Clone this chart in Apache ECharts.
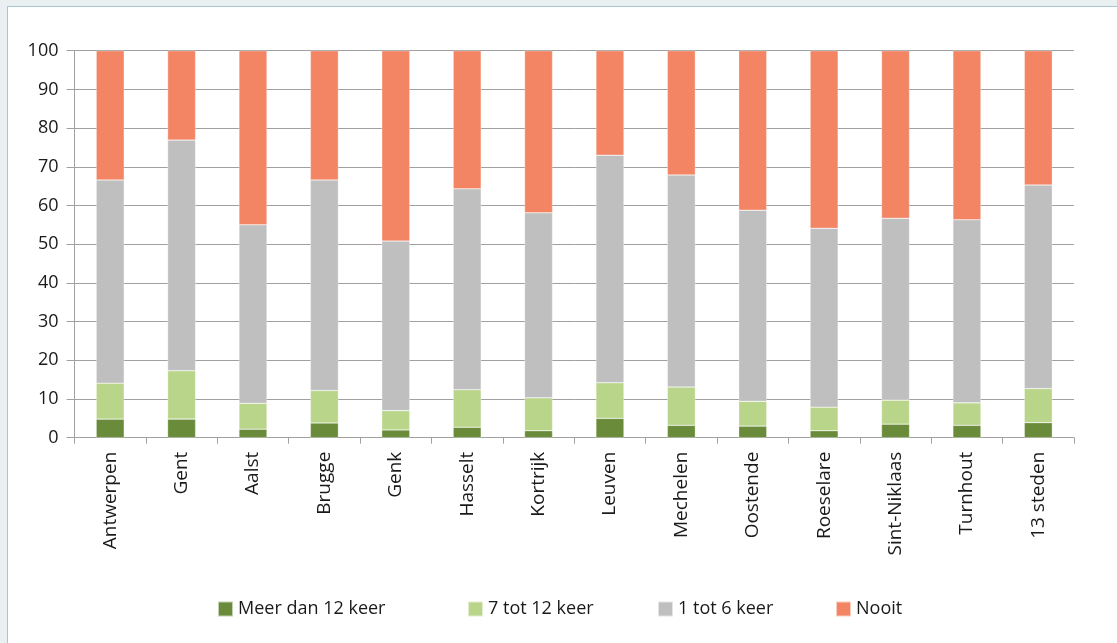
<!DOCTYPE html>
<html>
<head>
<meta charset="utf-8">
<script src="https://cdn.jsdelivr.net/npm/echarts@6/dist/echarts.min.js"></script>
<style>
  html, body { margin: 0; padding: 0; width: 1117px; height: 643px; overflow: hidden; background: #eaeff2; }
  #panel { position: absolute; left: 7px; top: 6px; width: 1130px; height: 660px; background: #fff; border: 1px solid #a9c5d3; }
  #chart { position: absolute; left: 0; top: 0; width: 1117px; height: 643px; }
</style>
</head>
<body>
<div id="panel"></div>
<div id="chart"></div>
<script>
const categories = ['Antwerpen','Gent','Aalst','Brugge','Genk','Hasselt','Kortrijk','Leuven','Mechelen','Oostende','Roeselare','Sint-Niklaas','Turnhout','13 steden'];
const meerDan12 = [4.8, 4.8, 2.2, 3.8, 2.0, 2.7, 1.8, 5.0, 3.2, 3.0, 1.8, 3.5, 3.2, 3.9];
const tot7_12   = [9.3, 12.5, 6.7, 8.4, 5.0, 9.7, 8.5, 9.2, 9.9, 6.4, 6.1, 6.2, 5.8, 8.8];
const tot1_6    = [52.5, 59.6, 46.1, 54.4, 43.8, 51.9, 47.8, 58.8, 54.8, 49.4, 46.2, 47.0, 47.3, 52.6];
const nooit     = [33.4, 23.1, 45.0, 33.4, 49.2, 35.7, 41.9, 27.0, 32.1, 41.2, 45.9, 43.3, 43.7, 34.7];
const seriesNames = ['Meer dan 12 keer', '7 tot 12 keer', '1 tot 6 keer', 'Nooit'];
const colors = ['#6a8c3a', '#b9d58a', '#bfbfbf', '#f38565'];
const yTicks = [0, 100, 10];

const font = '"Open Sans", "DejaVu Sans", sans-serif';
const chart = echarts.init(document.getElementById('chart'));
const dataSets = [meerDan12, tot7_12, tot1_6, nooit];
const legendLefts = [217, 467, 657, 835];

chart.setOption({
  animation: false,
  color: colors,
  grid: { left: 74.5, right: 43, top: 50.7, bottom: 205.3, containLabel: false },
  legend: seriesNames.map((n, i) => ({
    data: [n], left: legendLefts[i], top: 600, padding: 0, itemWidth: 15, itemHeight: 15, itemGap: 0,
    icon: 'rect', textStyle: { fontFamily: font, fontSize: 18, color: '#1a1a1a' }
  })),
  xAxis: {
    type: 'category', data: categories, boundaryGap: true,
    axisLine: { lineStyle: { color: '#a0a0a0', width: 1 } },
    axisTick: { show: true, length: 6, lineStyle: { color: '#a0a0a0' }, alignWithLabel: false },
    axisLabel: { rotate: 90, fontFamily: font, fontSize: 19, color: '#1a1a1a', margin: 14, interval: 0 }
  },
  yAxis: {
    type: 'value', min: yTicks[0], max: yTicks[1], interval: yTicks[2],
    axisLine: { show: true, lineStyle: { color: '#a0a0a0' } },
    axisTick: { show: true, length: 8, lineStyle: { color: '#a0a0a0' } },
    axisLabel: { fontFamily: font, fontSize: 18, color: '#1a1a1a', margin: 16 },
    splitLine: { lineStyle: { color: '#a0a0a0', width: 1 } }
  },
  series: dataSets.map((d, i) => ({
    name: seriesNames[i], type: 'bar', stack: 'total', data: d,
    barWidth: 28,
    itemStyle: { color: colors[i], borderColor: 'rgba(255,255,255,0.6)', borderWidth: 0.5 }
  }))
});
</script>
</body>
</html>
